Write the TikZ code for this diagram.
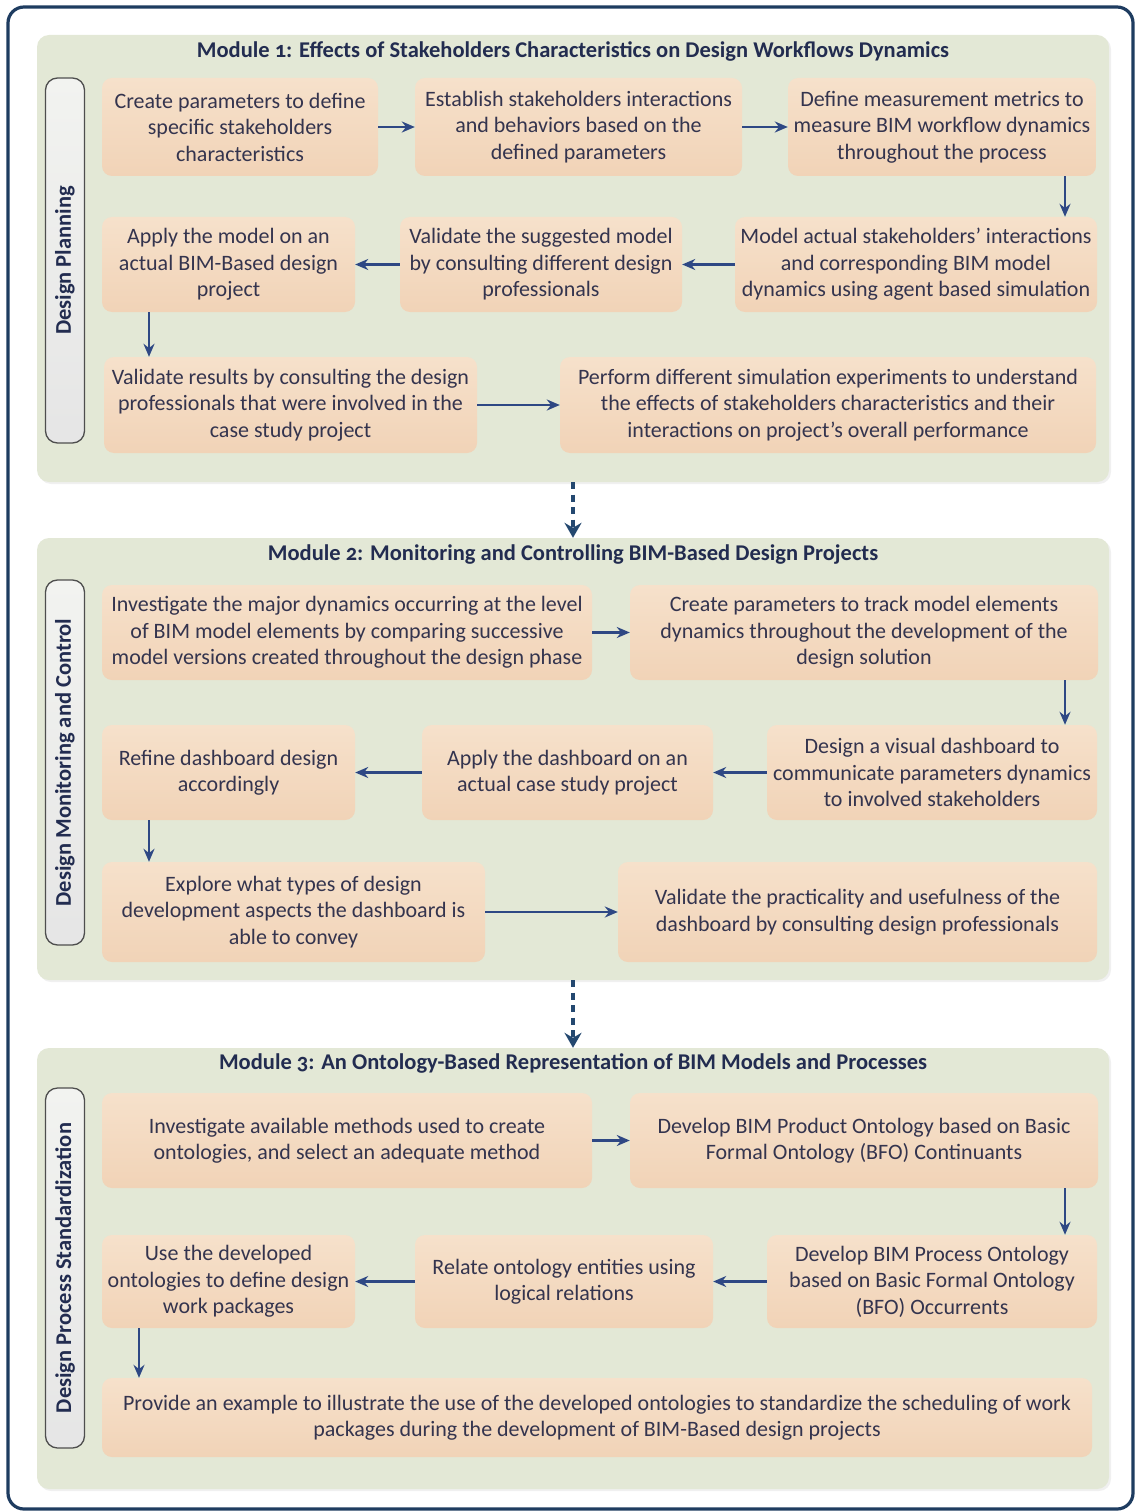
\documentclass[tikz,border=0pt]{standalone}
\usepackage{fontspec}
\setmainfont{Carlito}[Numbers=OldStyle]
\usetikzlibrary{arrows.meta,calc,shadows}

\definecolor{framecol}{RGB}{30,60,96}
\definecolor{panelcol}{RGB}{227,232,214}
\definecolor{boxtop}{RGB}{246,225,203}
\definecolor{boxbot}{RGB}{241,211,183}
\definecolor{txtcol}{RGB}{52,52,78}
\definecolor{titlecol}{RGB}{34,44,80}
\definecolor{arrcol}{RGB}{46,72,132}
\definecolor{dashcol}{RGB}{36,72,112}
\definecolor{sidefill}{RGB}{242,243,240}
\definecolor{sideedge}{RGB}{78,78,78}

\begin{document}
\begin{tikzpicture}[x=1pt,y=-1pt,
  panelbox/.style={rounded corners=12pt, fill=panelcol, draw=none, inner sep=0pt,
    drop shadow={opacity=0.12, shadow xshift=2pt, shadow yshift=-2pt}},
  stepbox/.style={rounded corners=10pt, top color=boxtop, bottom color=boxbot,
    draw=none, text=txtcol, align=center, inner sep=0pt,
    font=\fontsize{22}{26.5}\selectfont},
  sidebox/.style={rotate=90, rounded corners=12pt, draw=sideedge, line width=1.3pt,
    top color=sidefill, bottom color=white!90!black, inner sep=0pt,
    text=titlecol, font=\bfseries\fontsize{22.5}{26}\selectfont},
  modtitle/.style={text=titlecol, font=\bfseries\fontsize{22.5}{26}\selectfont, inner sep=0pt},
  flow/.style={draw=arrcol, line width=2.2pt, -{Stealth[length=13pt,width=11pt]}},
  link/.style={draw=dashcol, line width=4.5pt, dash pattern=on 7pt off 5.5pt,
    -{Stealth[length=15pt,width=17pt,inset=5pt]}},
]
\useasboundingbox (0,0) rectangle (1136,1511);

% outer frame
\draw[framecol, line width=3.2pt, rounded corners=16pt] (8,7) rectangle (1133,1509);

% module panels
\node[panelbox, minimum width=1072, minimum height=447] (m1) at (573,258.5) {};
\node[panelbox, minimum width=1072, minimum height=442] (m2) at (573,759) {};
\node[panelbox, minimum width=1072, minimum height=441] (m3) at (573,1268.5) {};

% module titles
\node[modtitle] (t1) at (573,52) {Module 1: Effects of Stakeholders Characteristics on Design Workflows Dynamics};
\node[modtitle] (t2) at (573,555) {Module 2: Monitoring and Controlling BIM-Based Design Projects};
\node[modtitle] (t3) at (573,1063) {Module 3: An Ontology-Based Representation of BIM Models and Processes};

% phase labels
\node[sidebox, minimum width=365, minimum height=39] (s1) at (65,260.5) {Design Planning};
\node[sidebox, minimum width=365, minimum height=39] (s2) at (65,762.5) {Design Monitoring and Control};
\node[sidebox, minimum width=360, minimum height=39] (s3) at (65,1268) {Design Process Standardization};

% ---- Module 1 steps
\node[stepbox, minimum width=276, minimum height=98] (a1) at (240,127)
  {Create parameters to define\\specific stakeholders\\characteristics};
\node[stepbox, minimum width=327, minimum height=98] (b1) at (578.5,127)
  {Establish stakeholders interactions\\and behaviors based on the\\defined parameters};
\node[stepbox, minimum width=308, minimum height=98] (c1) at (942,127)
  {Define measurement metrics to\\measure BIM workflow dynamics\\throughout the process};
\node[stepbox, minimum width=362, minimum height=95] (f1) at (916,264.5)
  {Model actual stakeholders’ interactions\\and corresponding BIM model\\dynamics using agent based simulation};
\node[stepbox, minimum width=282, minimum height=95] (e1) at (541,264.5)
  {Validate the suggested model\\by consulting different design\\professionals};
\node[stepbox, minimum width=253, minimum height=95] (d1) at (228.5,264.5)
  {Apply the model on an\\actual BIM-Based design\\project};
\node[stepbox, minimum width=373, minimum height=96] (g1) at (290.5,405)
  {Validate results by consulting the design\\professionals that were involved in the\\case study project};
\node[stepbox, minimum width=536, minimum height=96] (h1) at (828,405)
  {Perform different simulation experiments to understand\\the effects of stakeholders characteristics and their\\interactions on project’s overall performance};

% ---- Module 2 steps
\node[stepbox, minimum width=490, minimum height=95] (a2) at (347,632.5)
  {Investigate the major dynamics occurring at the level\\of BIM model elements by comparing successive\\model versions created throughout the design phase};
\node[stepbox, minimum width=468, minimum height=95] (b2) at (864,632.5)
  {Create parameters to track model elements\\dynamics throughout the development of the\\design solution};
\node[stepbox, minimum width=330, minimum height=95] (c2) at (932,772.5)
  {Design a visual dashboard to\\communicate parameters dynamics\\to involved stakeholders};
\node[stepbox, minimum width=291, minimum height=95] (d2) at (567.5,772.5)
  {Apply the dashboard on an\\actual case study project};
\node[stepbox, minimum width=253, minimum height=95] (e2) at (228.5,772.5)
  {Refine dashboard design\\accordingly};
\node[stepbox, minimum width=383, minimum height=100] (f2) at (293.5,912)
  {Explore what types of design\\development aspects the dashboard is\\able to convey};
\node[stepbox, minimum width=479, minimum height=100] (g2) at (857.5,912)
  {Validate the practicality and usefulness of the\\dashboard by consulting design professionals};

% ---- Module 3 steps
\node[stepbox, minimum width=490, minimum height=95] (a3) at (347,1140.5)
  {Investigate available methods used to create\\ontologies, and select an adequate method};
\node[stepbox, minimum width=468, minimum height=95] (b3) at (864,1140.5)
  {Develop BIM Product Ontology based on Basic\\Formal Ontology (BFO) Continuants};
\node[stepbox, minimum width=330, minimum height=93] (c3) at (932,1281.5)
  {Develop BIM Process Ontology\\based on Basic Formal Ontology\\(BFO) Occurrents};
\node[stepbox, minimum width=298, minimum height=93] (d3) at (564,1281.5)
  {Relate ontology entities using\\logical relations};
\node[stepbox, minimum width=253, minimum height=93] (e3) at (228.5,1281.5)
  {Use the developed\\ontologies to define design\\work packages};
\node[stepbox, minimum width=990, minimum height=79] (f3) at (597,1417.5)
  {Provide an example to illustrate the use of the developed ontologies to standardize the scheduling of work\\packages during the development of BIM-Based design projects};

% columns used by the vertical connectors
\coordinate (vr) at (1065,0);
\coordinate (vl) at (149,0);
\coordinate (vl3) at (139,0);

% ---- Module 1 connectors
\draw[flow] (a1.east) -- (b1.west);
\draw[flow] (b1.east) -- (c1.west);
\draw[flow] (c1.south -| vr) -- (f1.north -| vr);
\draw[flow] (f1.west) -- (e1.east);
\draw[flow] (e1.west) -- (d1.east);
\draw[flow] (d1.south -| vl) -- (g1.north -| vl);
\draw[flow] (g1.east) -- (h1.west);

% ---- Module 2 connectors
\draw[flow] (a2.east) -- (b2.west);
\draw[flow] (b2.south -| vr) -- (c2.north -| vr);
\draw[flow] (c2.west) -- (d2.east);
\draw[flow] (d2.west) -- (e2.east);
\draw[flow] (e2.south -| vl) -- (f2.north -| vl);
\draw[flow] (f2.east) -- (g2.west);

% ---- Module 3 connectors
\draw[flow] (a3.east) -- (b3.west);
\draw[flow] (b3.south -| vr) -- (c3.north -| vr);
\draw[flow] (c3.west) -- (d3.east);
\draw[flow] (d3.west) -- (e3.east);
\draw[flow] (e3.south -| vl3) -- (f3.north -| vl3);

% links between modules
\draw[link] (m1.south) -- (m2.north);
\draw[link] (m2.south) -- (m3.north);
\end{tikzpicture}
\end{document}
